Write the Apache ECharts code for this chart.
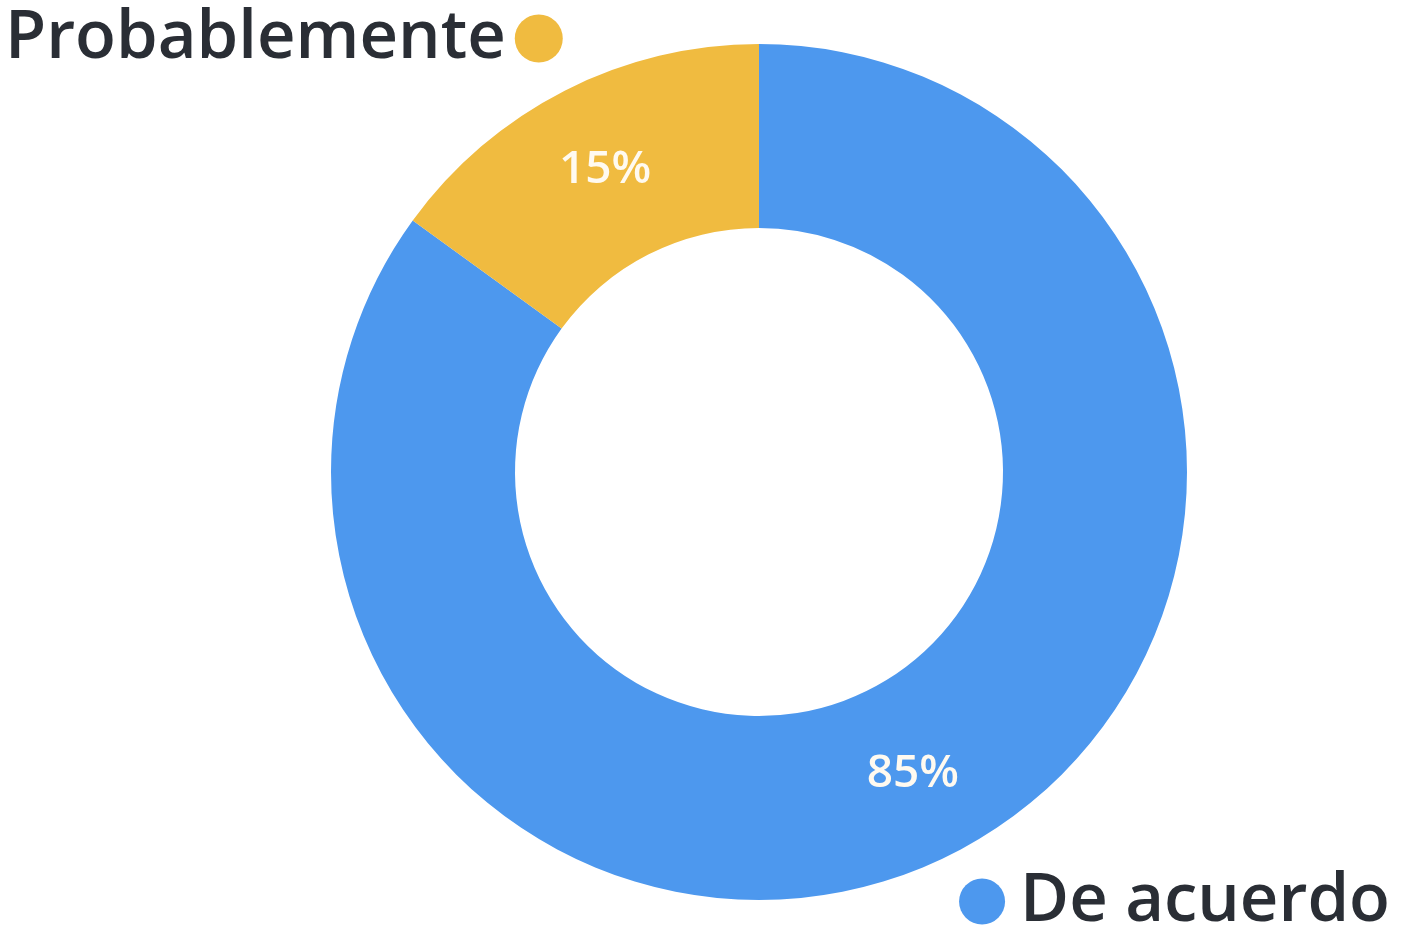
<!DOCTYPE html>
<html>
<head>
<meta charset="utf-8">
<script src="https://cdn.jsdelivr.net/npm/echarts@6/dist/echarts.min.js"></script>
<style>
    html, body { margin: 0; padding: 0; background: #fff; }
    #chart { width: 1401px; height: 942px; }
</style>
</head>
<body>
<div id="chart"></div>
<script>
const categories = ['De acuerdo', 'Probablemente'];
const values = [85, 15];
const colors = ['#4d98ee', '#f0bb40'];

const chart = echarts.init(document.getElementById('chart'));

const legendText = {
    color: '#2a2e35',
    fontFamily: '"Open Sans", sans-serif',
    fontWeight: 600,
    fontSize: 67
};

const option = {
    color: colors,
    legend: [
        {
            data: [categories[1]],
            left: 0,
            top: 0,
            align: 'right',
            icon: 'circle',
            itemWidth: 48,
            itemHeight: 48,
            textStyle: Object.assign({}, legendText, { padding: [0, 4, 0, 0] })
        },
        {
            data: [categories[0]],
            right: 6,
            bottom: 2,
            align: 'left',
            icon: 'circle',
            itemWidth: 46,
            itemHeight: 46,
            textStyle: Object.assign({}, legendText, { padding: [0, 0, 0, 10] })
        }
    ],
    series: [
        {
            type: 'pie',
            center: [759, 472],
            radius: [244, 428],
            startAngle: 90,
            clockwise: true,
            avoidLabelOverlap: false,
            label: {
                show: true,
                position: 'inside',
                formatter: '{d}%',
                color: '#fffaf0',
                fontFamily: '"Open Sans", sans-serif',
                fontWeight: 600,
                fontSize: 46,
                padding: [14, 0, 0, 0]
            },
            labelLine: { show: false },
            itemStyle: { borderWidth: 0 },
            emphasis: { disabled: true },
            data: categories.map((name, i) => ({ name: name, value: values[i] }))
        }
    ]
};

chart.setOption(option);
</script>
</body>
</html>
